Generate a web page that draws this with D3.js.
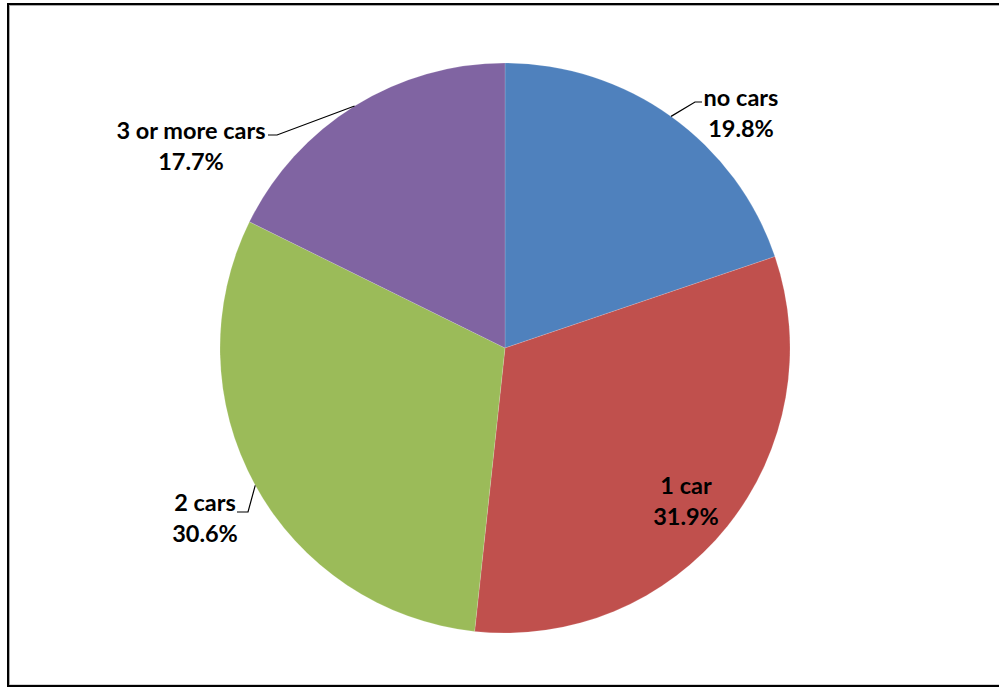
<!DOCTYPE html>
<html>
<head>
<meta charset="utf-8">
<script src="https://cdn.jsdelivr.net/npm/d3@7"></script>
<style>
  html, body { margin: 0; padding: 0; background: #fff; }
  svg { display: block; }
  .lbl { font-family: Lato, "Open Sans", sans-serif; font-weight: 700; font-size: 23.5px; fill: #000; }
</style>
</head>
<body>
<svg id="chart" width="999" height="688"></svg>
<script>
// Household car ownership shares (percent)
const categories = ["no cars", "1 car", "2 cars", "3 or more cars"];
const shares = [19.8, 31.9, 30.6, 17.7];
const colors = ["#4F81BD", "#C0504D", "#9BBB59", "#8064A2"];

// Label layout: text centre/baseline, and the elbow of the leader line (null = label sits on the slice)
const labelLayout = {
  "no cars":        { x: 741, y: 106, elbow: [[695, 102], [702, 102]] },
  "1 car":          { x: 686, y: 494, elbow: null },
  "2 cars":         { x: 205, y: 511, elbow: [[248, 512], [237, 512]] },
  "3 or more cars": { x: 191, y: 139, elbow: [[277, 135], [268, 135]] }
};

const svg = d3.select("#chart");

// Outer frame with a soft inner edge
svg.append("rect")
  .attr("x", 9.5).attr("y", 5.5).attr("width", 1000).attr("height", 679.5)
  .attr("fill", "none").attr("stroke", "#aaa").attr("stroke-width", 1);
svg.append("rect")
  .attr("x", 8).attr("y", 4).attr("width", 1010).attr("height", 682)
  .attr("fill", "none").attr("stroke", "#000").attr("stroke-width", 2);

const cx = 505, cy = 348, r = 285;
const data = categories.map((c, i) => ({ name: c, value: shares[i], color: colors[i] }));

const pie = d3.pie().value(d => d.value).sort(null);
const arcs = pie(data);
const arc = d3.arc().innerRadius(0).outerRadius(r);

const g = svg.append("g").attr("transform", `translate(${cx},${cy})`);
g.selectAll("path.slice")
  .data(arcs)
  .join("path")
  .attr("class", "slice")
  .attr("d", arc)
  .attr("fill", d => d.data.color)
  .attr("stroke", "rgba(255,255,255,0.25)")
  .attr("stroke-width", 0.6);

// Leader lines from the slice edge at its mid-angle
arcs.forEach(a => {
  const L = labelLayout[a.data.name];
  if (!L.elbow) return;
  const mid = (a.startAngle + a.endAngle) / 2;
  const px = cx + r * Math.sin(mid), py = cy - r * Math.cos(mid);
  const pts = [[px, py]].concat(L.elbow);
  svg.append("path")
    .attr("d", d3.line()(pts))
    .attr("fill", "none").attr("stroke", "#000").attr("stroke-width", 1.2);
});

// Labels: category name and percentage, centred on each other
arcs.forEach(a => {
  const L = labelLayout[a.data.name];
  const t = svg.append("text").attr("class", "lbl").attr("text-anchor", "middle");
  t.append("tspan").attr("x", L.x).attr("y", L.y).text(a.data.name);
  t.append("tspan").attr("x", L.x).attr("y", L.y + 31).text(d3.format(".1f")(a.data.value) + "%");
});
</script>
</body>
</html>
